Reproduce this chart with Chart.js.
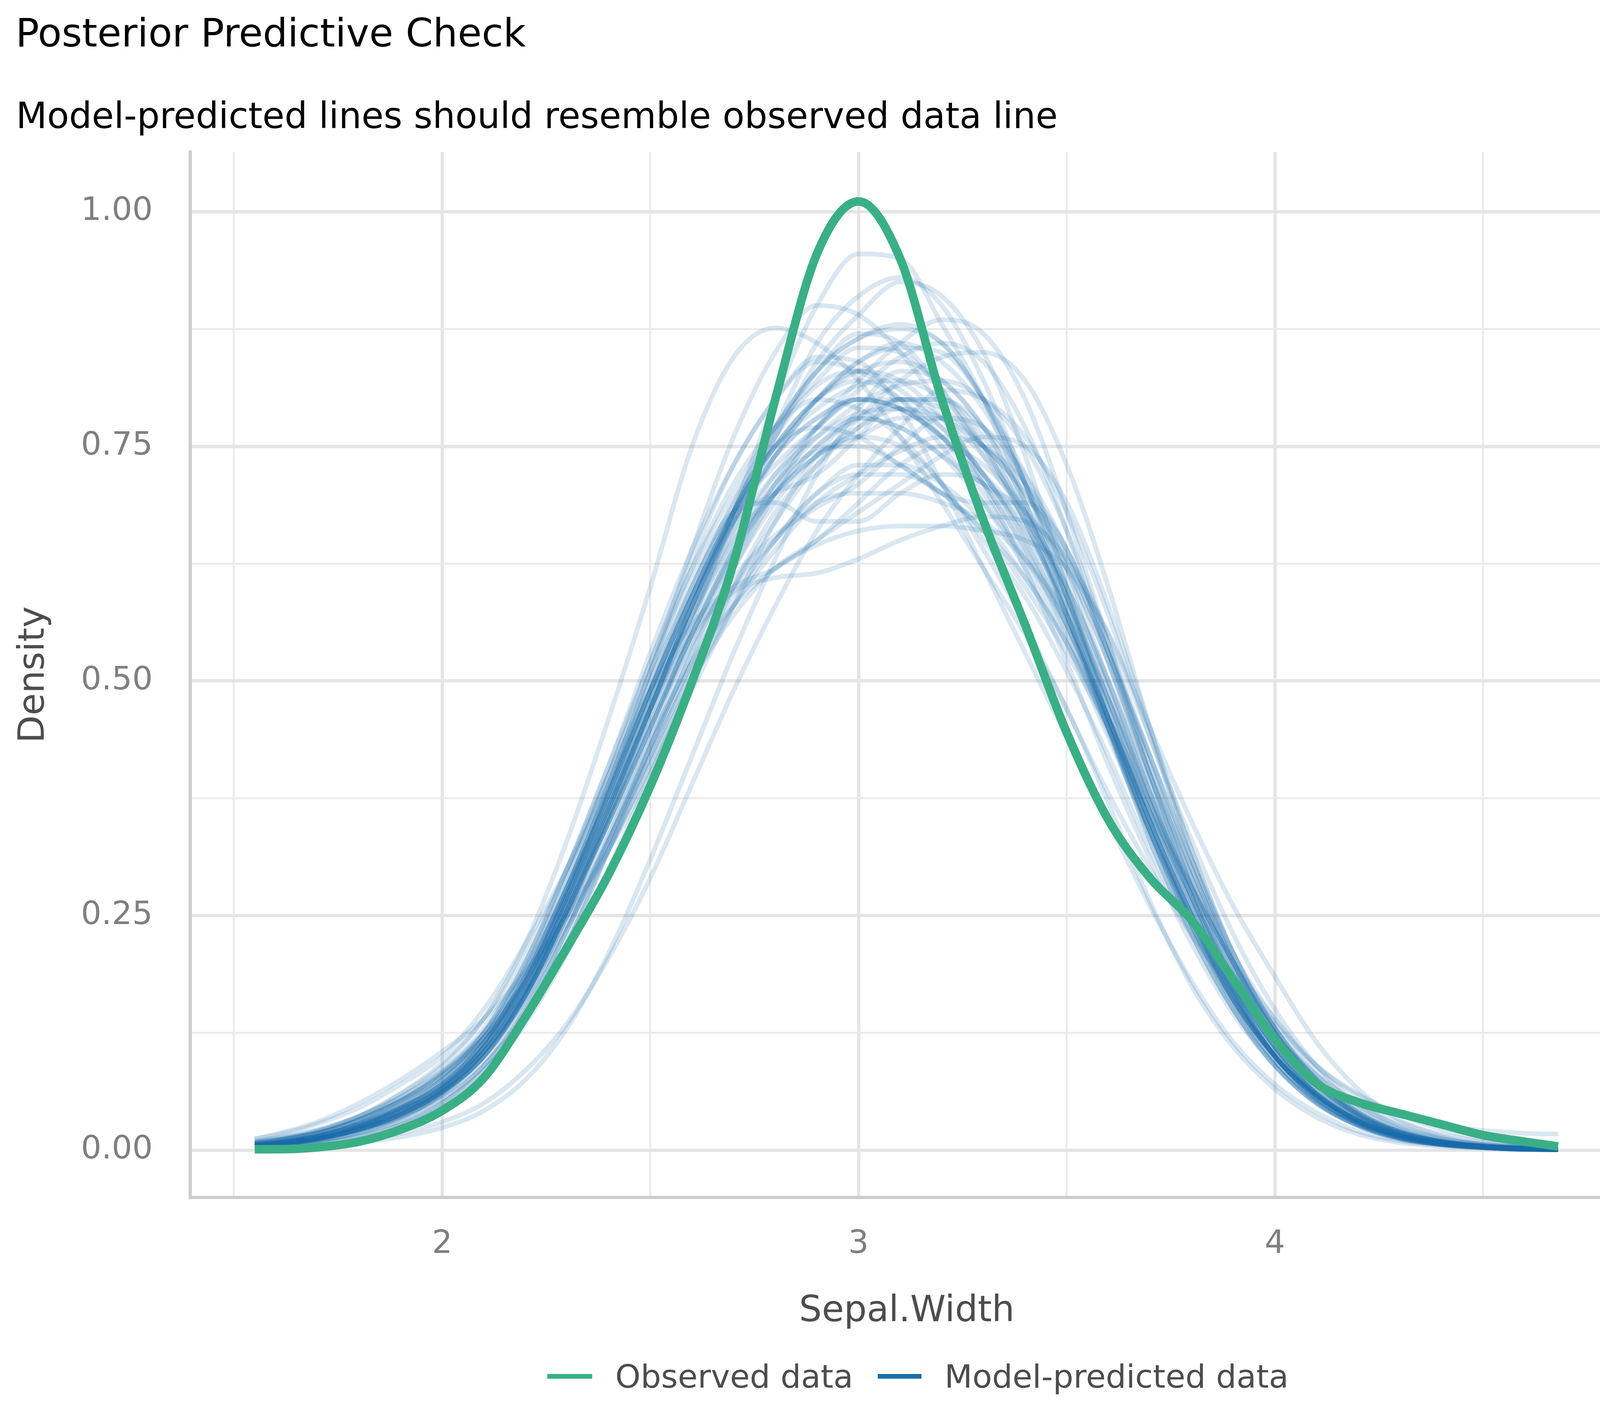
<!DOCTYPE html>
<html><head><meta charset="utf-8">
<script src="https://cdn.jsdelivr.net/npm/chart.js@4.4.1/dist/chart.umd.min.js"></script>
<style>html,body{margin:0;padding:0;background:#fff;} canvas{display:block;}</style>
</head><body>
<canvas id="c" width="4200" height="3600" style="width:4200px;height:3600px"></canvas>
<script>
const titleText = "Posterior Predictive Check";
const subtitleText = "Model-predicted lines should resemble observed data line";
const xTitle = "Sepal.Width";
const yTitle = "Density";
const legendLabels = ["Observed data", "Model-predicted data"];

const xGrid = [1.55,1.6,1.7,1.8,1.9,2.0,2.1,2.2,2.3,2.4,2.5,2.6,2.7,2.8,2.9,3.0,3.1,3.2,3.3,3.4,3.5,3.6,3.7,3.8,3.9,4.0,4.1,4.2,4.3,4.4,4.5,4.6,4.68];
const xTickValues = [1.5,2,2.5,3,3.5,4,4.5];
const xTickLabels = ["","2","","3","","4",""];
const yTickValues = [0,0.125,0.25,0.375,0.5,0.625,0.75,0.875,1];
const yTickLabels = ["0.00","","0.25","","0.50","","0.75","","1.00"];
const xMin = 1.395, xMax = 4.837, yMin = -0.0504, yMax = 1.0637;

const observed = [0.001,0.001,0.003,0.009,0.022, 0.042,0.077,0.142,0.216,0.294, 0.388,0.499,0.626,0.80,0.955, 1.011,0.95,0.80,0.671,0.56, 0.445,0.352,0.29,0.245,0.182, 0.118,0.071,0.051,0.039,0.0275, 0.016,0.009,0.004];

const pred01 = [.005,.007,.013,.025,.042, .063,.11,.19,.28,.375, .49,.6,.68,.73,.77, .80,.80,.78,.74,.68, .59,.49,.375,.28,.2, .125,.075,.04,.02,.01, .005,.002,.001];
const pred02 = [.002,.003,.007,.014,.028, .05,.09,.15,.235,.335, .44,.56,.68,.8,.9, .955,.95,.88,.8,.69, .57,.45,.34,.245,.16, .095,.052,.026,.012,.006, .003,.001,.0005];
const pred03 = [.003,.005,.01,.019,.035, .06,.1,.165,.26,.36, .47,.58,.68,.77,.86, .91,.93,.9,.82,.71, .58,.45,.33,.23,.15, .09,.05,.026,.013,.006, .003,.001,.001];
const pred04 = [.004,.006,.012,.022,.038, .062,.105,.17,.265,.365, .47,.58,.67,.76,.84, .89,.925,.91,.85,.74, .6,.46,.34,.24,.16, .1,.06,.033,.017,.008, .004,.002,.001];
const pred05 = [.006,.008,.015,.028,.047, .075,.12,.19,.28,.39, .51,.64,.76,.85,.9, .89,.85,.79,.71,.62, .52,.41,.31,.22,.145, .09,.05,.026,.012,.006, .003,.001,.0005];
const pred06 = [.008,.011,.02,.036,.06, .09,.14,.22,.33,.46, .6,.75,.845,.876,.86, .82,.76,.69,.62,.55, .47,.37,.265,.175,.11, .065,.035,.017,.008,.004, .002,.001,.0005];
const pred07 = [.003,.005,.01,.019,.033, .055,.09,.15,.235,.33, .43,.53,.62,.7,.77, .82,.86,.885,.87,.8, .68,.54,.4,.28,.18, .11,.06,.032,.016,.008, .004,.002,.001];
const pred08 = [.004,.006,.012,.023,.041, .068,.115,.185,.28,.385, .5,.6,.69,.77,.83, .865,.875,.86,.8,.71, .59,.46,.34,.24,.16, .1,.058,.031,.016,.008, .004,.002,.001];
const pred09 = [.005,.007,.014,.027,.047, .075,.125,.2,.3,.41, .52,.62,.7,.77,.82, .855,.85,.81,.75,.67, .57,.46,.35,.25,.17, .1,.06,.032,.016,.008, .004,.002,.001];
const pred10 = [.004,.006,.012,.022,.038, .062,.105,.17,.265,.365, .47,.57,.66,.74,.8, .84,.855,.85,.8,.72, .62,.5,.38,.27,.18, .11,.063,.034,.017,.008, .004,.002,.001];
const pred11 = [.004,.006,.012,.024,.042, .068,.11,.18,.27,.37, .47,.55,.595,.61,.615, .63,.65,.665,.675,.67, .63,.55,.44,.33,.23, .15,.09,.05,.026,.013, .006,.003,.002];
const pred12 = [.007,.01,.018,.032,.053, .083,.13,.2,.29,.4, .51,.61,.68,.69,.67, .67,.7,.72,.71,.66, .58,.48,.37,.27,.18, .11,.065,.035,.018,.009, .004,.002,.001];
const pred13 = [.004,.006,.012,.022,.038, .062,.1,.165,.255,.35, .44,.52,.58,.62,.645, .66,.665,.665,.66,.65, .62,.55,.45,.35,.26, .185,.115,.065,.032,.015, .007,.003,.001];
const pred14 = [.005,.007,.014,.026,.044, .068,.11,.175,.27,.38, .49,.59,.67,.7,.72, .76,.8,.8,.76,.68, .57,.45,.33,.23,.15, .09,.05,.027,.013,.006, .003,.001,.001];
const pred15 = [.006,.008,.015,.027,.045, .07,.11,.17,.26,.36, .47,.58,.68,.76,.815, .83,.81,.77,.72,.65, .56,.45,.34,.245,.16, .1,.058,.031,.015,.007, .003,.001,.001];
const pred16 = [.004,.006,.011,.021,.036, .06,.1,.16,.25,.35, .45,.55,.64,.71,.76, .795,.815,.82,.8,.75, .66,.54,.41,.29,.19, .12,.07,.038,.019,.009, .004,.002,.001];
const pred17 = [.012,.016,.028,.045,.07, .1,.15,.22,.3,.39, .48,.57,.65,.72,.77, .8,.79,.76,.71,.64, .55,.445,.335,.24,.16, .1,.055,.028,.013,.006, .003,.001,.0005];
const pred18 = [.006,.008,.015,.028,.046, .07,.115,.18,.27,.37, .48,.58,.66,.72,.76, .785,.79,.77,.72,.65, .56,.46,.35,.25,.17, .1,.058,.031,.015,.007, .003,.001,.001];
const pred19 = [.005,.007,.014,.026,.043, .065,.105,.165,.255,.35, .45,.55,.63,.7,.75, .78,.77,.74,.71,.68, .62,.52,.4,.29,.19, .12,.07,.038,.019,.009, .004,.002,.001];
const pred20 = [.008,.011,.019,.033,.053, .08,.12,.18,.27,.37, .48,.59,.68,.75,.77, .76,.73,.7,.66,.61, .54,.45,.35,.25,.16, .1,.055,.028,.013,.006, .003,.001,.0005];
const pred21 = [.004,.006,.012,.022,.036, .058,.095,.15,.235,.33, .42,.51,.58,.64,.69, .72,.745,.76,.75,.71, .64,.54,.42,.3,.2, .125,.072,.038,.019,.009, .004,.002,.001];
const pred22 = [.007,.01,.018,.032,.052, .08,.12,.18,.26,.35, .45,.55,.64,.71,.745, .75,.73,.7,.69,.69, .64,.53,.4,.28,.18, .11,.06,.031,.015,.007, .003,.001,.0005];
const pred23 = [.003,.004,.008,.015,.027, .045,.08,.135,.21,.3, .4,.5,.6,.68,.73, .77,.8,.8,.77,.71, .63,.53,.42,.31,.21, .14,.085,.048,.025,.012, .006,.003,.001];
const pred24 = [.01,.013,.022,.036,.056, .083,.12,.17,.24,.32, .41,.5,.58,.65,.7, .72,.72,.7,.66,.6, .53,.45,.36,.28,.2, .14,.09,.058,.038,.027, .021,.018,.017];
const pred25 = [.007,.01,.018,.032,.052, .075,.115,.17,.25,.34, .43,.52,.6,.65,.69, .7,.7,.69,.67,.63, .57,.48,.38,.28,.19, .12,.07,.037,.018,.009, .004,.002,.001];
const pred26 = [.007,.01,.018,.032,.053, .082,.125,.19,.28,.39, .51,.62,.71,.77,.8, .79,.76,.71,.65,.59, .51,.42,.32,.23,.15, .09,.05,.026,.012,.006, .003,.001,.0005];
const pred27 = [.003,.005,.01,.018,.031, .05,.085,.14,.22,.32, .43,.54,.63,.71,.77, .81,.845,.86,.84,.77, .66,.52,.39,.27,.17, .1,.058,.031,.015,.007, .003,.001,.001];
const pred28 = [.004,.006,.012,.023,.04, .066,.11,.18,.275,.38, .49,.59,.68,.75,.8, .83,.84,.82,.77,.69, .59,.47,.36,.26,.17, .105,.06,.032,.016,.008, .004,.002,.001];
const pred29 = [.002,.003,.005,.01,.018, .03,.05,.085,.135,.205, .29,.39,.49,.58,.66, .72,.77,.81,.8,.76, .68,.57,.44,.32,.21, .13,.075,.04,.02,.009, .004,.002,.001];
const pred30 = [.012,.017,.03,.05,.075, .105,.14,.19,.25,.32, .4,.49,.58,.67,.74, .78,.77,.74,.69,.63, .56,.46,.35,.25,.17, .105,.06,.03,.014,.006, .003,.001,.0005];
const pred31 = [.001,.002,.004,.008,.014, .024,.042,.075,.13,.21, .31,.42,.53,.63,.72, .79,.83,.82,.77,.69, .59,.48,.37,.27,.18, .11,.065,.035,.018,.009, .004,.002,.001];
const pred32 = [.006,.008,.015,.027,.045, .07,.105,.16,.24,.33, .43,.53,.62,.69,.74, .76,.75,.71,.64,.56, .47,.38,.3,.23,.17, .12,.08,.05,.03,.017, .009,.005,.003];
const pred33 = [.002,.003,.007,.014,.027, .05,.085,.14,.22,.32, .42,.52,.6,.67,.73, .78,.82,.845,.85,.82, .73,.6,.45,.31,.2, .12,.068,.036,.018,.009, .004,.002,.001];
const pred34 = [.005,.008,.015,.027,.045, .07,.115,.18,.275,.38, .49,.59,.68,.75,.8, .82,.8,.76,.7,.63, .55,.45,.34,.24,.16, .1,.056,.029,.014,.007, .003,.001,.001];
const pred35 = [.004,.006,.012,.022,.038, .062,.1,.165,.255,.355, .46,.56,.64,.7,.74, .77,.79,.78,.75,.7, .63,.53,.42,.31,.21, .13,.075,.04,.02,.009, .004,.002,.001];
const pred36 = [.006,.008,.015,.028,.047, .075,.12,.195,.29,.4, .52,.63,.73,.8,.845, .84,.79,.71,.62,.53, .44,.35,.26,.18,.115, .07,.04,.02,.01,.005, .002,.001,.0005];
const pred37 = [.008,.011,.02,.036,.06, .093,.14,.21,.3,.4, .49,.56,.6,.62,.65, .69,.73,.75,.73,.68, .6,.5,.38,.27,.18, .11,.06,.031,.015,.007, .003,.001,.0005];
const pred38 = [.004,.005,.01,.019,.034, .06,.1,.16,.25,.355, .465,.57,.67,.76,.83, .865,.88,.86,.8,.71, .6,.47,.35,.24,.155, .095,.055,.029,.014,.007, .003,.001,.0005];
const pred39 = [.004,.006,.012,.023,.04, .065,.108,.175,.27,.375, .48,.58,.67,.74,.78, .8,.79,.76,.71,.64, .56,.46,.36,.27,.19, .135,.09,.06,.038,.022, .012,.006,.003];
const pred40 = [.005,.007,.014,.026,.043, .065,.105,.165,.255,.35, .45,.54,.61,.655,.685, .71,.75,.78,.77,.72, .64,.53,.41,.3,.2, .125,.072,.038,.019,.009, .004,.002,.001];
const pred41 = [.006,.008,.015,.028,.046, .07,.115,.185,.28,.385, .49,.59,.68,.75,.8, .83,.82,.78,.72,.66, .57,.46,.35,.25,.165, .1,.055,.028,.013,.006, .003,.001,.0005];
const pred42 = [.004,.006,.012,.022,.038, .062,.1,.165,.255,.355, .455,.55,.635,.7,.75, .78,.8,.79,.75,.68, .59,.48,.36,.26,.17, .1,.058,.031,.015,.007, .003,.001,.001];
const pred43 = [.009,.012,.021,.036,.057, .085,.125,.18,.25,.33, .42,.51,.59,.65,.7, .73,.73,.71,.67,.61, .54,.46,.37,.28,.2, .13,.08,.045,.024,.012, .006,.003,.001];
const pred44 = [.004,.006,.012,.022,.038, .062,.1,.165,.255,.36, .47,.58,.68,.77,.83, .87,.86,.81,.74,.67, .57,.46,.35,.25,.16, .095,.052,.027,.013,.006, .003,.001,.0005];
const pred45 = [.004,.006,.012,.022,.036, .055,.09,.145,.225,.32, .41,.5,.57,.62,.65, .68,.71,.74,.76,.75, .69,.58,.45,.32,.21, .13,.075,.04,.02,.009, .004,.002,.001];
const pred46 = [.005,.007,.014,.026,.044, .068,.115,.185,.28,.385, .5,.6,.69,.75,.79, .815,.82,.8,.75,.67, .58,.47,.36,.26,.17, .105,.06,.032,.016,.008, .004,.002,.001];
const pred47 = [.005,.007,.013,.024,.04, .062,.105,.17,.265,.365, .47,.57,.65,.7,.74, .76,.78,.78,.75,.7, .62,.52,.4,.3,.2, .125,.072,.038,.019,.009, .004,.002,.001];
const pred48 = [.007,.01,.018,.032,.052, .078,.125,.2,.3,.41, .53,.64,.73,.8,.84, .83,.8,.75,.69,.62, .54,.44,.34,.25,.165, .1,.056,.029,.014,.007, .003,.001,.0005];
const pred49 = [.004,.006,.012,.022,.038, .065,.11,.18,.275,.38, .49,.59,.67,.74,.8, .84,.86,.84,.79,.71, .61,.49,.37,.26,.17, .1,.058,.031,.015,.007, .003,.001,.001];
const pred50 = [.005,.007,.013,.024,.041, .064,.105,.17,.265,.365, .47,.58,.67,.74,.78, .8,.79,.76,.72,.67, .6,.5,.39,.29,.2, .13,.078,.043,.022,.011, .005,.002,.001];

const predicted = [pred01,pred02,pred03,pred04,pred05,pred06,pred07,pred08,pred09,pred10,
  pred11,pred12,pred13,pred14,pred15,pred16,pred17,pred18,pred19,pred20,
  pred21,pred22,pred23,pred24,pred25,pred26,pred27,pred28,pred29,pred30,
  pred31,pred32,pred33,pred34,pred35,pred36,pred37,pred38,pred39,pred40,
  pred41,pred42,pred43,pred44,pred45,pred46,pred47,pred48,pred49,pred50];

const GREEN = '#3aaf85';
const BLUE = '#1b6ca8';
const BLUE_T = 'rgba(27,108,168,0.16)';
const FONT = '"DejaVu Sans", "Liberation Sans", sans-serif';

const datasets = [{
  label: legendLabels[0],
  data: xGrid.map((x, i) => ({x: x, y: observed[i]})),
  borderColor: GREEN, borderWidth: 22, pointRadius: 0,
  cubicInterpolationMode: 'monotone', fill: false, borderJoinStyle: 'round'
}].concat(predicted.map(s => ({
  label: legendLabels[1],
  data: xGrid.map((x, i) => ({x: x, y: s[i]})),
  borderColor: BLUE_T, borderWidth: 12, pointRadius: 0,
  cubicInterpolationMode: 'monotone', fill: false, borderJoinStyle: 'round'
})));

const decor = {
  id: 'decor',
  afterDraw(chart) {
    const ctx = chart.ctx, ca = chart.chartArea;
    ctx.save();
    ctx.textBaseline = 'alphabetic';
    ctx.textAlign = 'left';
    ctx.fillStyle = '#000000';
    ctx.font = '100px ' + FONT;
    ctx.fillText(titleText, 40, 119);
    ctx.font = '92px ' + FONT;
    ctx.fillText(subtitleText, 41, 328);

    ctx.fillStyle = '#4d4d4d';
    ctx.textAlign = 'center';
    ctx.font = '92px ' + FONT;
    ctx.fillText(xTitle, (ca.left + ca.right) / 2, 3383);
    ctx.save();
    ctx.translate(112, (ca.top + ca.bottom) / 2);
    ctx.rotate(-Math.PI / 2);
    ctx.fillText(yTitle, 0, 0);
    ctx.restore();

    ctx.lineCap = 'butt';
    ctx.lineWidth = 12;
    ctx.strokeStyle = GREEN;
    ctx.beginPath(); ctx.moveTo(1401, 3524); ctx.lineTo(1516, 3524); ctx.stroke();
    ctx.strokeStyle = BLUE;
    ctx.beginPath(); ctx.moveTo(2247, 3524); ctx.lineTo(2359, 3524); ctx.stroke();
    ctx.textAlign = 'left';
    ctx.font = '82.5px ' + FONT;
    ctx.fillStyle = '#4d4d4d';
    ctx.fillText(legendLabels[0], 1575, 3553);
    ctx.fillText(legendLabels[1], 2418, 3553);
    ctx.restore();
  }
};

new Chart(document.getElementById('c'), {
  type: 'line',
  data: { datasets: datasets },
  options: {
    responsive: false,
    animation: false,
    devicePixelRatio: 1,
    layout: { padding: { left: 0, top: 389, right: 44, bottom: 0 } },
    plugins: { legend: { display: false }, tooltip: { enabled: false }, title: { display: false } },
    elements: { line: { tension: 0 } },
    scales: {
      x: {
        type: 'linear', min: xMin, max: xMax,
        afterFit(s) { s.height = 534; },
        afterBuildTicks(s) { s.ticks = xTickValues.map(v => ({value: v})); },
        ticks: {
          callback: (v, i) => xTickLabels[i],
          color: '#7f7f7f', font: { family: FONT, size: 82.5 },
          padding: 71.5, maxRotation: 0, autoSkip: false
        },
        grid: {
          drawTicks: false,
          color: c => (xTickLabels[c.index] ? '#e5e5e5' : '#ebebeb'),
          lineWidth: c => (xTickLabels[c.index] ? 8.5 : 5)
        },
        border: { display: true, color: '#cccccc', width: 8 }
      },
      y: {
        type: 'linear', min: yMin, max: yMax,
        afterFit(s) { s.width = 487; },
        afterBuildTicks(s) { s.ticks = yTickValues.map(v => ({value: v})); },
        ticks: {
          callback: (v, i) => yTickLabels[i],
          color: '#7f7f7f', font: { family: FONT, size: 82.5 },
          padding: 96, autoSkip: false
        },
        grid: {
          drawTicks: false,
          color: c => (yTickLabels[c.index] ? '#e5e5e5' : '#ebebeb'),
          lineWidth: c => (yTickLabels[c.index] ? 8.5 : 5)
        },
        border: { display: true, color: '#cccccc', width: 8 }
      }
    }
  },
  plugins: [decor]
});
</script>
</body></html>
